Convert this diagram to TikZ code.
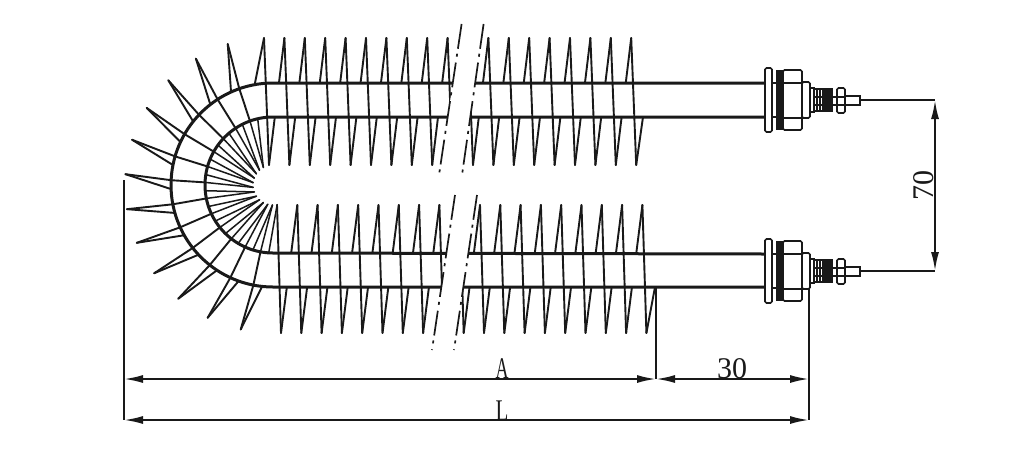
\documentclass[tikz,border=0pt]{standalone}
\usepackage{fontspec}
\setmainfont{Liberation Serif}
\usetikzlibrary{arrows.meta}
\colorlet{ink}{black!90}
\tikzset{
  finline/.style={draw=ink,line width=1.9pt,line cap=round,line join=round},
  spokeline/.style={draw=ink,line width=1.5pt,line cap=round,line join=round},
  tube/.style={draw=ink,line width=3pt},
  partline/.style={draw=ink,line width=1.7pt,rounded corners=1.5pt},
  dimline/.style={draw=ink,line width=2pt},
  dimarrow/.style={dimline,{Latex[length=19pt,width=8pt]}-{Latex[length=19pt,width=8pt]}},
  breakline/.style={draw=ink,line width=1.7pt,dash pattern=on 25pt off 5pt on 3pt off 6pt},
  dimtext/.style={inner sep=0pt,text=ink,font=\fontsize{30}{30}\selectfont}
}
% polar helper: point at radius #1, angle #2 (degrees, counter-clockwise) about the bend centre
\newcommand{\polarpt}[2]{({273+(#1)*cos(#2)},{185-(#1)*sin(#2)})}
\newcommand{\terminal}[1]{%
  \begin{scope}[yshift=#1]
    \draw[partline,fill=white] (765,68) rectangle (772,132);
    \draw[draw=ink,line width=2.4pt] (772,83) -- (777,83) (772,117) -- (777,117);
    \fill[ink] (776,70) rectangle (783,130);
    \draw[partline,fill=white] (783,70) rectangle (802,130);
    \draw[draw=ink,line width=1.7pt] (783,83) -- (802,83) (783,118) -- (802,118);
    \draw[partline,fill=white] (802,82) rectangle (810,118);
    \draw[draw=ink,line width=1.5pt] (810,88) rectangle (814,112);
    \draw[draw=ink,line width=1.5pt] (814,89) rectangle (832,111);
    \fill[ink] (822,88) rectangle (831,112);
    \foreach \xx in {817,820} \draw[draw=ink,line width=1.4pt] (\xx,89) -- (\xx,111);
    \draw[draw=ink,line width=1.4pt] (814,97) -- (837,97) (814,105) -- (837,105);
    \draw[partline,fill=white] (837,88) rectangle (845,113);
    \draw[draw=ink,line width=1.2pt] (837,97) -- (845,97) (837,105) -- (845,105);
    \draw[draw=ink,line width=1.5pt] (845,96) rectangle (860,105);
  \end{scope}}
\begin{document}
\begin{tikzpicture}[x=1pt,y=-1pt]
\useasboundingbox (0,0) rectangle (1024,464);
\fill[white] (0,0) rectangle (1024,464);
% --- hidden (back) strands of the straight fins ---
\foreach \k in {0,...,17}{
  \pgfmathsetmacro{\xa}{264+20.4*\k+5}
  \pgfmathsetmacro{\xb}{264+20.4*(\k+1)}
  \draw[finline] (\xa,165) -- (\xb,38);
}
\draw[finline] (264,38) -- (255,83);
\draw[finline] (636.2,165) -- (643,117);
\foreach \k in {0,...,17}{
  \pgfmathsetmacro{\xa}{277+20.3*\k+4}
  \pgfmathsetmacro{\xb}{277+20.3*(\k+1)}
  \draw[finline] (\xa,333) -- (\xb,205);
}
\draw[finline] (646.4,333) -- (655,287);
% --- white band inside the tube ---
\fill[white] (765,83) -- (273,83) arc[start angle=-90,end angle=-270,radius=102]
  -- (765,287) -- (765,254) -- (273,254) arc[start angle=-270,end angle=-90,radius=68] -- (765,117) -- cycle;
% --- front strands of the straight fins ---
\foreach \k in {0,...,18}{
  \pgfmathsetmacro{\xa}{264+20.4*\k}
  \pgfmathsetmacro{\xb}{\xa+5}
  \draw[finline] (\xa,38) -- (\xb,165);
}
\foreach \k in {0,...,18}{
  \pgfmathsetmacro{\xa}{277+20.3*\k}
  \pgfmathsetmacro{\xb}{\xa+4}
  \draw[finline] (\xa,205) -- (\xb,333);
}
% --- fins round the bend ---
\foreach \k in {0,...,11}{
  \pgfmathsetmacro{\a}{107.8+13.6*\k}
  \draw[finline] \polarpt{148}{\a} -- \polarpt{102}{\a+1.5} -- \polarpt{68}{\a+2};
  \draw[finline] \polarpt{148}{\a} -- \polarpt{102}{\a+6.5};
  \draw[spokeline] \polarpt{68}{\a+2} -- \polarpt{20}{\a+11};
  \draw[spokeline] \polarpt{68}{\a+9} -- \polarpt{20}{\a+24.6};
}
\draw[spokeline] \polarpt{68}{103} -- \polarpt{20}{118.8};
% --- tube outlines ---
\draw[tube] (765,83) -- (273,83) arc[start angle=-90,end angle=-270,radius=102] -- (765,287);
\draw[tube] (765,117) -- (273,117) arc[start angle=-90,end angle=-270,radius=68] -- (765,254);
% --- breaks ---
\fill[white] (461.6,24) -- (483.6,24) -- (462,175) -- (439,175) -- cycle;
\fill[white] (455,195) -- (477,195) -- (454,350) -- (432,350) -- cycle;
\draw[breakline] (461.6,24) -- (439,175);
\draw[breakline] (483.6,24) -- (462,175);
\draw[breakline] (455,195) -- (432,350);
\draw[breakline] (477,195) -- (454,350);
% --- terminals ---
\terminal{0pt}
\terminal{-171pt}
% --- dimensions ---
\coordinate (pinA) at (860,100);
\coordinate (pinB) at (860,271);
\coordinate (dimA) at (935,100);
\coordinate (dimB) at (935,271);
\coordinate (extLtop) at (124,180);
\coordinate (extLbot) at (124,420);
\coordinate (extMtop) at (656,288);
\coordinate (extMbot) at (656,379);
\coordinate (extRtop) at (809,288);
\coordinate (extRbot) at (809,420);
\coordinate (dimAl) at (124,379);
\coordinate (dimAm) at (809,379);
\draw[dimline] (pinA) -- (dimA);
\draw[dimline] (pinB) -- (dimB);
\draw[dimarrow] (dimA) -- (dimB);
\draw[dimline] (extLtop) -- (extLbot);
\draw[dimline] (extMtop) -- (extMbot);
\draw[dimline] (extRtop) -- (extRbot);
\draw[dimarrow] (dimAl) -- (extMbot);
\draw[dimarrow] (extMbot) -- (dimAm);
\draw[dimarrow] (extLbot) -- (extRbot);
\node[dimtext,anchor=base,xscale=.6] (labA) at (502,378) {A};
\node[dimtext,anchor=base,xscale=.7] (labL) at (502,420) {L};
\node[dimtext,anchor=base] (lab30) at (732,378) {30};
\node[dimtext,anchor=base,rotate=90] (lab70) at (933,185) {70};
\end{tikzpicture}
\end{document}
